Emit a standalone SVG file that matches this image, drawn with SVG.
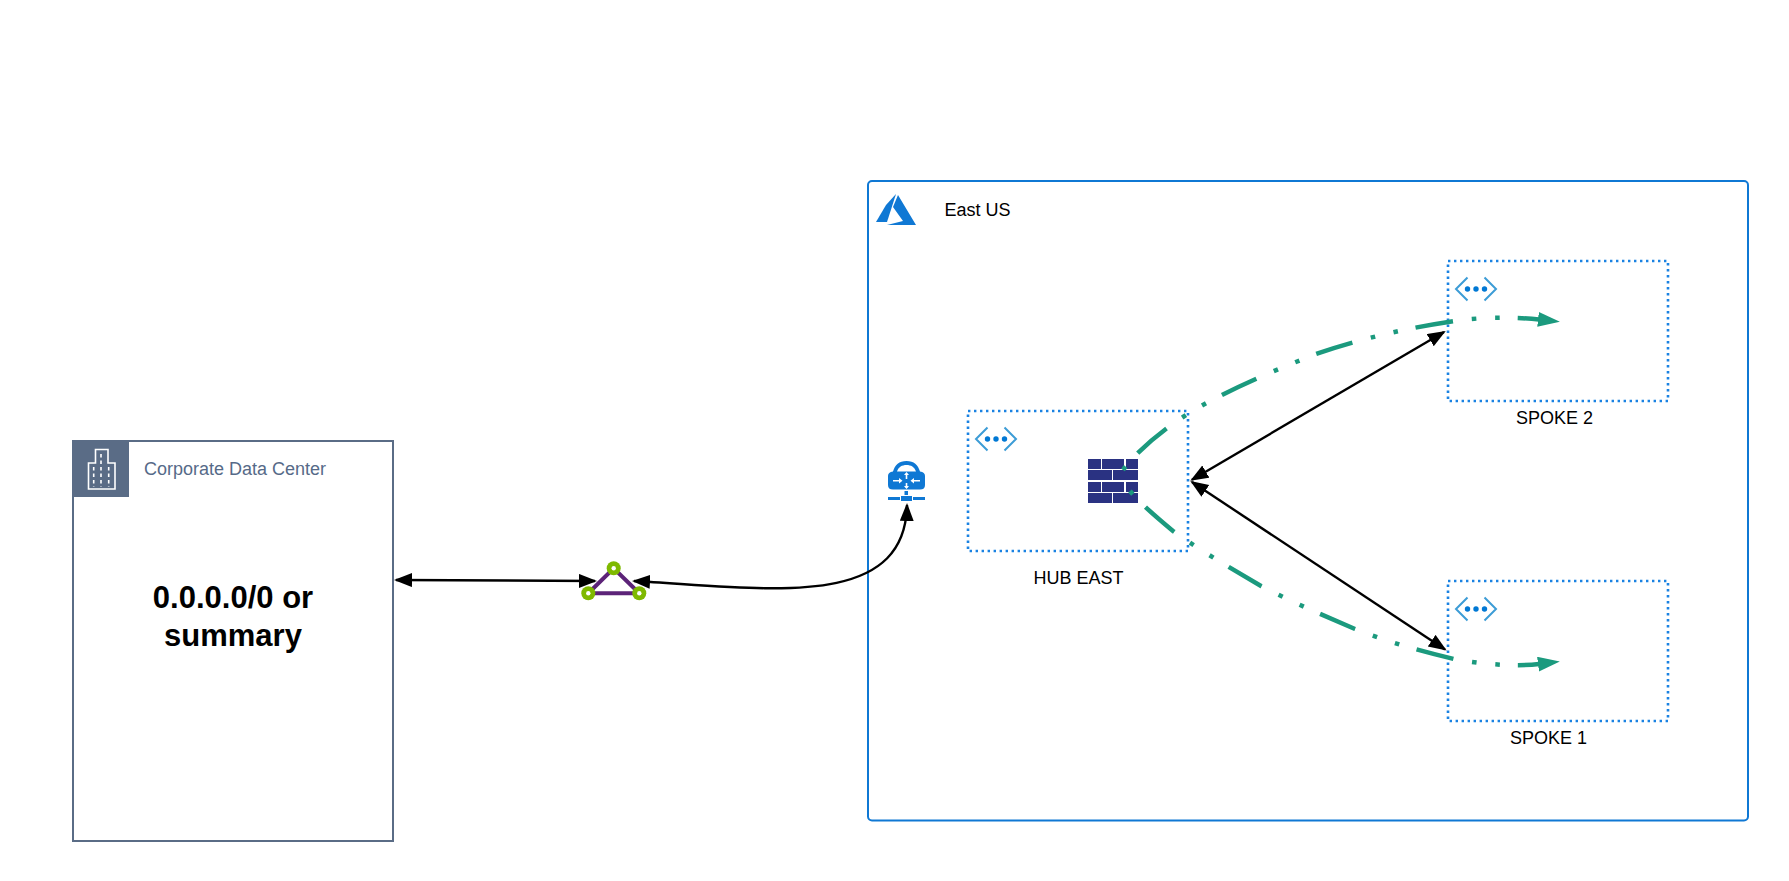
<svg xmlns="http://www.w3.org/2000/svg" xmlns:xlink="http://www.w3.org/1999/xlink" width="1789" height="881" viewBox="0 0 1789 881">
<style>
text{font-family:"Liberation Sans",Arial,sans-serif;font-size:18px;fill:#000}
.zone{fill:none;stroke:#1a82e2;stroke-width:2.6;stroke-dasharray:2.4 3.6}
.blk{fill:none;stroke:#000;stroke-width:2.4;marker-start:url(#bh);marker-end:url(#bh)}
.grn{fill:none;stroke:#1b9a7e;stroke-width:4.5;stroke-dasharray:38 19 4.5 18.800 4.500 18;stroke-dashoffset:80.300;marker-end:url(#gh)}
.brick{fill:#2a3282}
.vpn{fill:#0f78d4}
.wa{fill:none;stroke:#fff;stroke-width:1.6}
.win{stroke:#fff;stroke-width:1.6;stroke-dasharray:3.5 3}
</style>
<defs>
<marker id="bh" markerUnits="userSpaceOnUse" markerWidth="20" markerHeight="16" refX="16" refY="7" orient="auto-start-reverse"><path d="M0 0L18 7L0 14z" fill="#000"/></marker>
<marker id="gh" markerUnits="userSpaceOnUse" markerWidth="24" markerHeight="16" refX="1" refY="7.5" orient="auto"><path d="M0 0L22 7.5L0 15z" fill="#1b9a7e"/></marker>
<g id="vnet"><path d="M11.500-11.500L0 0L11.500 11.500M28.500-11.500L40 0L28.500 11.500" fill="none" stroke="#3c9cd6" stroke-width="2"/><circle cx="11.500" cy="0" r="2.700" fill="#0078d4"/><circle cx="20" cy="0" r="2.700" fill="#0078d4"/><circle cx="28.500" cy="0" r="2.700" fill="#0078d4"/></g>
</defs>
<rect width="1789" height="881" fill="#fff"/>

<g id="corporate-dc">
<rect x="73" y="441" width="320" height="400" fill="#fff" stroke="#5a6c86" stroke-width="2"/>
<rect x="72" y="440" width="57" height="57" fill="#5a6c86"/>
<path d="M88.500 489V463H95.500V449.500H108V463H115V489Z" fill="none" stroke="#fff" stroke-width="1.600"/>
<path class="win" d="M93.700 467V487M101 454V487M108.700 467V487"/>
<text x="144" y="475" style="fill:#566a88">Corporate Data Center</text>
<text x="233" y="608" text-anchor="middle" font-weight="bold" style="font-size:31px">0.0.0.0/0 or</text>
<text x="233" y="646" text-anchor="middle" font-weight="bold" style="font-size:31px">summary</text>
</g>

<g id="east-us">
<rect x="868" y="181" width="880" height="639.500" rx="4" fill="none" stroke="#0f78d4" stroke-width="2"/>
<path d="M876 222L886 205L896 194L887 222Z" fill="#0f78d4"/>
<path d="M898 195L916 225H887L903 221L893 207Z" fill="#0f78d4"/>
<text x="944.500" y="215.500">East US</text>
</g>

<g id="hub-east">
<rect class="zone" x="968" y="411" width="220" height="140"/>
<use xlink:href="#vnet" href="#vnet" x="976" y="439"/>
<text x="1033.500" y="584">HUB EAST</text>
</g>

<g id="firewall">
<rect class="brick" x="1088" y="459" width="13" height="10"/><rect class="brick" x="1102" y="459" width="22" height="10"/><rect class="brick" x="1126" y="459" width="12" height="10"/>
<rect class="brick" x="1088" y="470" width="24" height="10"/><rect class="brick" x="1113" y="470" width="25" height="10"/>
<rect class="brick" x="1088" y="482" width="13" height="10"/><rect class="brick" x="1102" y="482" width="22" height="10"/><rect class="brick" x="1126" y="482" width="12" height="10"/>
<rect class="brick" x="1088" y="493" width="24" height="10"/><rect class="brick" x="1113" y="493" width="25" height="10"/>
</g>

<g id="spoke-2">
<rect class="zone" x="1448" y="261" width="220" height="140"/>
<use xlink:href="#vnet" href="#vnet" x="1456" y="289"/>
<text x="1516" y="424">SPOKE 2</text>
</g>

<g id="spoke-1">
<rect class="zone" x="1448" y="581" width="220" height="140"/>
<use xlink:href="#vnet" href="#vnet" x="1456" y="609"/>
<text x="1510" y="744">SPOKE 1</text>
</g>

<g id="vpn-gateway">
<path class="vpn" fill-rule="evenodd" d="M888 476Q888 472 893 471.500C895 465 899 461 906.500 461C914 461 918 465 920 471.500Q925 472 925 476V485Q925 489.500 920 489.500H893Q888 489.500 888 485ZM897 471.500H916C914.500 467 911 465 906.500 465C902 465 898.500 467 897 471.500Z"/>
<rect class="vpn" x="904.500" y="491" width="3.500" height="4"/>
<rect class="vpn" x="888" y="497" width="12" height="3"/><rect class="vpn" x="901" y="496" width="11" height="5"/><rect class="vpn" x="913" y="497" width="12" height="3"/>
<path class="wa" d="M893 480.700H900M920 480.700H913M906.500 479V474M906.500 483V488"/>
<path d="M899 478L902.500 480.700L899 483.500ZM914 478L910.500 480.700L914 483.500ZM904 475L906.500 472L909 475ZM904 486L906.500 489L909 486Z" fill="#fff"/>
</g>

<g id="vpn-connection">
<path d="M588.300 593.300L613.700 568.300L639.300 593.300Z" fill="none" stroke="#5c2378" stroke-width="4"/>
<circle cx="613.700" cy="568.300" r="7" fill="#7fb900"/><circle cx="613.700" cy="568.300" r="2.200" fill="#fff"/>
<circle cx="588.300" cy="593.300" r="7" fill="#7fb900"/><circle cx="588.300" cy="593.300" r="2.200" fill="#fff"/>
<circle cx="639.300" cy="593.300" r="7" fill="#7fb900"/><circle cx="639.300" cy="593.300" r="2.200" fill="#fff"/>
</g>

<g id="connectors">
<path class="blk" d="M396 580L595 581"/>
<path class="blk" d="M634 581C765 588 905 612 907 505"/>
<path class="blk" d="M1192 479.700L1444 332"/>
<path class="blk" d="M1192 482L1445 649.500"/>
<path class="grn" d="M1123 470C1132 457 1155 435 1183 417C1215 396 1265 374 1316 354C1350 342 1400 329 1454 321C1480 317 1515 317 1539 319.500"/>
<path class="grn" d="M1130 491C1140 503 1155 516 1173 531C1195 547 1225 565 1261 586C1290 601 1320 614 1355 629C1385 641 1420 651 1454 659C1480 664 1515 667 1539 664"/>
</g>
</svg>
